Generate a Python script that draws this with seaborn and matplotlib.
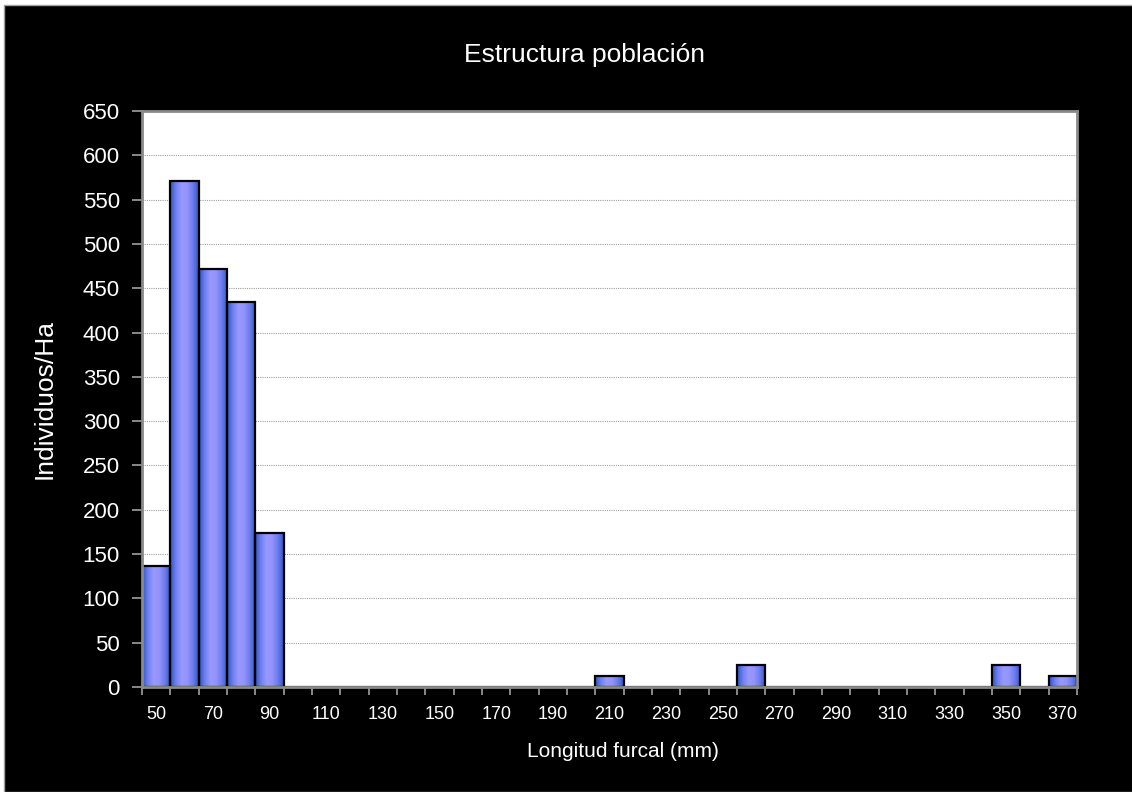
import numpy as np
import matplotlib
matplotlib.use("Agg")
import matplotlib.pyplot as plt
from matplotlib.patches import Rectangle
from matplotlib.colors import LinearSegmentedColormap
import seaborn as sns

# longitud furcal (mm), clases de 10 mm
clases = [str(v) for v in range(50, 380, 10)]
individuos = [136, 571, 472, 435, 174, 0, 0, 0, 0, 0, 0, 0, 0, 0, 0, 0,
              12, 0, 0, 0, 0, 25, 0, 0, 0, 0, 0, 0, 0, 0, 25, 0, 12]
y_ticks = list(range(0, 700, 50))

sns.set_theme(style="white")
plt.rcParams['font.family'] = ['Liberation Sans', 'DejaVu Sans']

fig = plt.figure(figsize=(11.32, 7.92), dpi=100)
fig.patch.set_facecolor("white")
fig.patches.append(Rectangle((4 / 1132, 0), 1, 1 - 5 / 792, transform=fig.transFigure,
                             facecolor="black", edgecolor="#a0a0a0", linewidth=1, zorder=-5))

ax = fig.add_axes([142 / 1132, 1 - 687 / 792, (1077 - 142) / 1132, (687 - 111) / 792])
ax.set_facecolor("white")

sns.barplot(x=clases, y=individuos, order=clases, width=1.0, color="#8c8cff",
            edgecolor="black", linewidth=1.6, ax=ax)

# degradado horizontal tipo Excel
cmap = LinearSegmentedColormap.from_list("bar", ["#2f55c8", "#6f80f0", "#9999ff", "#9292fb", "#6a7cee", "#2f55c8"])
grad = np.linspace(0, 1, 64).reshape(1, -1)
for p in ax.patches:
    h = p.get_height()
    if h <= 0:
        continue
    x0, w = p.get_x(), p.get_width()
    im = ax.imshow(grad, cmap=cmap, aspect="auto", extent=(x0, x0 + w, 0, h),
                   zorder=0.8, interpolation="bilinear")
    im.set_clip_path(p)
    p.set_facecolor("none")
    p.set_zorder(1)

ax.set_xlim(-0.5, len(clases) - 0.5)
ax.set_ylim(0, 650)
ax.set_yticks(y_ticks)
ax.set_yticklabels([str(v) for v in y_ticks])

# etiquetas cada dos clases, marcas en los límites de clase
lab_pos = list(range(0, len(clases), 2))
ax.set_xticks(lab_pos)
ax.set_xticklabels([clases[i] for i in lab_pos])
ax.set_xticks(np.arange(-0.5, len(clases)), minor=True)
ax.tick_params(axis="x", which="major", length=0, pad=14, labelsize=13, colors="white")
ax.tick_params(axis="x", which="minor", length=6, width=1.2, color="#a0a0a0", bottom=True)
ax.tick_params(axis="y", length=7, width=1.2, color="#a0a0a0", labelcolor="white",
               labelsize=16, pad=9, left=True)

ax.set_axisbelow(True)
ax.yaxis.grid(True, linestyle=(0, (1, 1)), color="#a0a0a0", linewidth=0.8)
for s in ax.spines.values():
    s.set_visible(True)
    s.set_color("#8a8a8a")
    s.set_linewidth(2)

ax.set_xlabel("Longitud furcal (mm)", color="white", fontsize=15)
ax.xaxis.set_label_coords(0.514, -55 / 576)
ax.set_ylabel("Individuos/Ha", color="white", fontsize=19)
ax.yaxis.set_label_coords(-85 / 935, 0.5)
fig.text(585 / 1132, 1 - 55 / 792, "Estructura población", color="white", fontsize=19,
         ha="center", va="center")

fig.savefig("out.png", dpi=100, facecolor=fig.get_facecolor())
